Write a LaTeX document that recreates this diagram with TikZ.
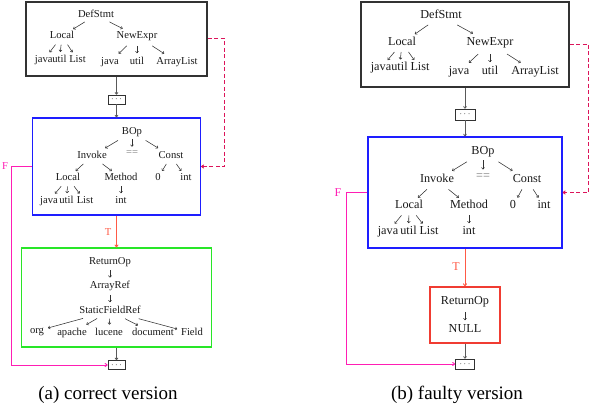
\documentclass[tikz,border=0pt]{standalone}
\usepackage{fontspec}
\setmainfont{Liberation Serif}
\usetikzlibrary{arrows.meta,calc}
\definecolor{fcol}{RGB}{255,30,180}
\definecolor{tcol}{RGB}{255,90,70}
\definecolor{dcol}{RGB}{220,20,90}
\definecolor{gcol}{RGB}{40,230,40}
\definecolor{bcol}{RGB}{30,30,255}
\definecolor{rcol}{RGB}{240,60,50}
\definecolor{kcol}{RGB}{50,50,50}
\newcommand\tedge[4]{\draw[tarr] ($(#1)!#3!(#2)$) -- ($(#1)!#4!(#2)$);}
\begin{document}
\begin{tikzpicture}[x=1pt,y=-1pt,
  lt/.style={font=\fontsize{10.6}{12}\selectfont, inner sep=0pt, text height=7.2pt, text depth=2.2pt, text=black!90},
  rt/.style={font=\fontsize{12.2}{14}\selectfont, inner sep=0pt, text height=8.2pt, text depth=2.6pt, text=black!90},
  tarr/.style={-{To[length=2.2pt,width=3.4pt]}, line width=0.55pt, kcol},
  kbox/.style={draw=kcol, line width=1.2pt, inner sep=0pt},
  sbox/.style={draw=kcol, line width=0.7pt, inner sep=0pt, font=\fontsize{9}{10}\selectfont},
  conn/.style={-{To[length=2.5pt,width=3.5pt]}, line width=0.8pt, black!65},
  fline/.style={-{To[length=3pt,width=4pt]}, line width=0.9pt, fcol},
  tline/.style={-{To[length=3pt,width=4pt]}, line width=0.9pt, tcol},
  dline/.style={-{To[length=3pt,width=4pt]}, line width=1pt, dcol, dash pattern=on 4pt off 2.5pt},
  lab/.style={inner sep=0pt, font=\fontsize{10.6}{12}\selectfont},
  captxt/.style={inner sep=0pt, font=\fontsize{19}{22}\selectfont}
]
\useasboundingbox (0,0) rectangle (592,406);

% ================= LEFT (a) =================
\node[kbox, minimum width=181, minimum height=74] (box1) at (116.5,39) {};
\node[lt] (ds1) at (96,15) {DefStmt};
\node[lt] (lo1) at (62,36) {Local};
\node[lt] (ne1) at (137,36) {NewExpr};
\node[lt] (j1) at (43.8,60) {java};
\node[lt] (u1) at (59.5,60) {util};
\node[lt] (l1) at (77.5,60) {List};
\node[lt] (j2) at (110,62) {java};
\node[lt] (u2) at (137,62) {util};
\node[lt] (al2) at (177,62) {ArrayList};
\tedge{ds1}{lo1}{0.33}{0.67}
\tedge{ds1}{ne1}{0.33}{0.65}
\tedge{lo1}{j1}{0.36}{0.68}
\tedge{lo1}{u1}{0.36}{0.66}
\tedge{lo1}{l1}{0.36}{0.68}
\tedge{ne1}{j2}{0.38}{0.68}
\tedge{ne1}{u2}{0.38}{0.66}
\tedge{ne1}{al2}{0.38}{0.68}

\node[sbox, minimum width=17, minimum height=9] (sb1) at (116.5,99.5) {$\cdots$};

\node[draw=bcol, line width=1.2pt, minimum width=168, minimum height=97, inner sep=0pt] (box2) at (116.5,166.5) {};
\node[lt] (bop1) at (132,132) {BOp};
\node[lt, text=black!55] (eq1) at (132,153) {==};
\node[lt] (inv1) at (92,156) {Invoke};
\node[lt] (cst1) at (171,156) {Const};
\node[lt] (lo2) at (68,178) {Local};
\node[lt] (me1) at (121,178) {Method};
\node[lt] (z1) at (158,178) {0};
\node[lt] (i1) at (186,178) {int};
\node[lt] (j3) at (49,201) {java};
\node[lt] (u3) at (66.5,201) {util};
\node[lt] (l3) at (85,201) {List};
\node[lt] (i2) at (121,201) {int};
\tedge{bop1}{inv1}{0.35}{0.67}
\tedge{bop1}{eq1}{0.33}{0.7}
\tedge{bop1}{cst1}{0.35}{0.67}
\tedge{inv1}{lo2}{0.36}{0.68}
\tedge{inv1}{me1}{0.36}{0.68}
\tedge{cst1}{z1}{0.36}{0.68}
\tedge{cst1}{i1}{0.36}{0.68}
\tedge{lo2}{j3}{0.36}{0.68}
\tedge{lo2}{u3}{0.36}{0.66}
\tedge{lo2}{l3}{0.36}{0.68}
\tedge{me1}{i2}{0.36}{0.66}

\node[draw=gcol, line width=1.1pt, minimum width=190, minimum height=99, inner sep=0pt] (box3) at (116.5,297.5) {};
\node[lt] (ro1) at (110,262) {ReturnOp};
\node[lt] (ar1) at (110,286) {ArrayRef};
\node[lt] (sf1) at (110,311) {StaticFieldRef};
\node[lt] (org) at (37,331) {org};
\node[lt] (apa) at (72,333) {apache};
\node[lt] (luc) at (109,333) {lucene};
\node[lt] (doc) at (153,333) {document};
\node[lt] (fld) at (192,333) {Field};
\tedge{ro1}{ar1}{0.35}{0.65}
\tedge{ar1}{sf1}{0.35}{0.65}
\tedge{sf1}{org}{0.37}{0.85}
\tedge{sf1}{apa}{0.34}{0.62}
\tedge{sf1}{luc}{0.35}{0.62}
\tedge{sf1}{doc}{0.35}{0.65}
\tedge{sf1}{fld}{0.35}{0.82}

\node[sbox, minimum width=17, minimum height=9] (sb2) at (116.5,365) {$\cdots$};

\draw[conn] (box1.south) -- (sb1.north);
\draw[conn] (sb1.south) -- (box2.north);
\draw[tline] (box2.south) -- (box3.north);
\draw[conn] (box3.south) -- (sb2.north);
\draw[fline] (box2.west) -- ++(-20.5,0) |- (sb2.west);
\draw[dline] (box1.east) -- ++(17,0) |- (box2.east);
\node[lab, text=fcol] (F1) at (5,166) {F};
\node[lab, text=tcol] (T1) at (108,232) {T};
\node[captxt] (capa) at (108,395) {(a) correct version};

% ================= RIGHT (b) =================
\node[kbox, minimum width=208, minimum height=85] (box4) at (465,44.5) {};
\node[rt] (ds2) at (441,16) {DefStmt};
\node[rt] (lo4) at (402,43) {Local};
\node[rt] (ne4) at (490,43) {NewExpr};
\node[rt] (j4) at (381,68) {java};
\node[rt] (u4) at (399.5,68) {util};
\node[rt] (l4) at (420,68) {List};
\node[rt] (j5) at (459,72) {java};
\node[rt] (u5) at (490,72) {util};
\node[rt] (al5) at (535,72) {ArrayList};
\tedge{ds2}{lo4}{0.33}{0.67}
\tedge{ds2}{ne4}{0.33}{0.65}
\tedge{lo4}{j4}{0.36}{0.68}
\tedge{lo4}{u4}{0.36}{0.66}
\tedge{lo4}{l4}{0.36}{0.68}
\tedge{ne4}{j5}{0.38}{0.68}
\tedge{ne4}{u5}{0.38}{0.66}
\tedge{ne4}{al5}{0.38}{0.68}

\node[sbox, minimum width=20, minimum height=11] (sb3) at (465,114.5) {$\cdots$};

\node[draw=bcol, line width=1.3pt, minimum width=194, minimum height=111, inner sep=0pt] (box5) at (465,192.5) {};
\node[rt] (bop2) at (483,152) {BOp};
\node[rt, text=black!55] (eq2) at (483,177) {==};
\node[rt] (inv2) at (437,180) {Invoke};
\node[rt] (cst2) at (527,180) {Const};
\node[rt] (lo5) at (409,206) {Local};
\node[rt] (me2) at (469,206) {Method};
\node[rt] (z2) at (513,206) {0};
\node[rt] (i3) at (544,206) {int};
\node[rt] (j6) at (388,232) {java};
\node[rt] (u6) at (408.5,232) {util};
\node[rt] (l6) at (429,232) {List};
\node[rt] (i4) at (469,232) {int};
\tedge{bop2}{inv2}{0.35}{0.67}
\tedge{bop2}{eq2}{0.33}{0.7}
\tedge{bop2}{cst2}{0.35}{0.67}
\tedge{inv2}{lo5}{0.36}{0.68}
\tedge{inv2}{me2}{0.36}{0.68}
\tedge{cst2}{z2}{0.36}{0.68}
\tedge{cst2}{i3}{0.36}{0.68}
\tedge{lo5}{j6}{0.36}{0.68}
\tedge{lo5}{u6}{0.36}{0.66}
\tedge{lo5}{l6}{0.36}{0.68}
\tedge{me2}{i4}{0.36}{0.66}

\node[draw=rcol, line width=1.3pt, minimum width=70, minimum height=56, inner sep=0pt] (box6) at (465,315) {};
\node[rt] (ro2) at (465,302) {ReturnOp};
\node[rt] (nul) at (465,330) {NULL};
\tedge{ro2}{nul}{0.35}{0.65}

\node[sbox, minimum width=19, minimum height=10] (sb4) at (465,364) {$\cdots$};

\draw[conn] (box4.south) -- (sb3.north);
\draw[conn] (sb3.south) -- (box5.north);
\draw[tline] (box5.south) -- (box6.north);
\draw[conn] (box6.south) -- (sb4.north);
\draw[fline] (box5.west) -- ++(-21,0) |- (sb4.west);
\draw[dline] (box4.east) -- ++(19,0) |- (box5.east);
\node[lab, text=fcol, font=\fontsize{12}{14}\selectfont] (F2) at (338,192.5) {F};
\node[lab, text=tcol, font=\fontsize{12}{14}\selectfont] (T2) at (456,267) {T};
\node[captxt] (capb) at (457,395) {(b) faulty version};
\end{tikzpicture}
\end{document}
